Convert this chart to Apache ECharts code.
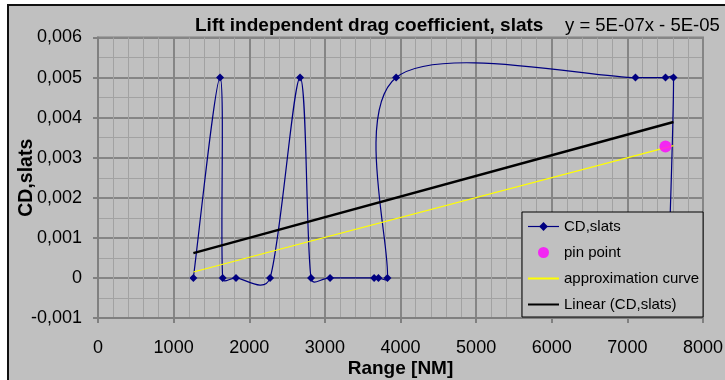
<!DOCTYPE html>
<html>
<head>
<meta charset="utf-8">
<script src="https://cdn.jsdelivr.net/npm/echarts@6/dist/echarts.min.js"></script>
<style>
html,body{margin:0;padding:0;background:#fff;}
#wrap{position:relative;width:725px;height:380px;overflow:hidden;background:#fff;}
#frame{position:absolute;left:7px;top:4px;width:740px;height:400px;background:#C0C0C0;border:2px solid #111;}
#chart{position:absolute;left:0;top:0;width:725px;height:380px;}
</style>
</head>
<body>
<div id="wrap"><div id="frame"></div><div id="chart"></div></div>
<script>
// Data
const cdRange = [1261, 1614, 1649, 1825, 2275, 2672, 2817, 3069, 3651, 3708, 3827, 3942, 7107, 7504, 7610, 7540];
const cdValue = [0, 0.005, 0, 0, 0, 0.005, 0, 0, 0, 0, 0, 0.005, 0.005, 0.005, 0.005, 0];
const pinRange = [7504];
const pinValue = [0.00328];
const approxRange = [1261, 7610];
const approxValue = [0.000147, 0.0033];
const linearRange = [1261, 7610];
const linearValue = [0.00062, 0.00389];
const titleText = 'Lift independent drag coefficient, slats';
const equationText = 'y = 5E-07x - 5E-05';
const seriesNames = ['CD,slats', 'pin point', 'approximation curve', 'Linear (CD,slats)'];

const zip = (xs, ys) => xs.map((x, i) => [x, ys[i]]);
const FONT = '"Liberation Sans", Arial, sans-serif';

// Excel-like smoothed line: Bezier through the data points, handle length limited to half the segment
function handle(a, b, segLen) {
  let vx = (b[0] - a[0]) / 6, vy = (b[1] - a[1]) / 6;
  const len = Math.hypot(vx, vy);
  if (len > segLen / 2 && len > 0) { const k = (segLen / 2) / len; vx *= k; vy *= k; }
  return [vx, vy];
}
function renderSmooth(params, api) {
  if (params.dataIndex !== 0) return null;
  const pts = cdRange.map((x, i) => api.coord([x, cdValue[i]]));
  const n = pts.length;
  let d = 'M' + pts[0][0] + ' ' + pts[0][1];
  for (let i = 0; i < n - 1; i++) {
    const p0 = pts[Math.max(0, i - 1)], p1 = pts[i], p2 = pts[i + 1], p3 = pts[Math.min(n - 1, i + 2)];
    const seg = Math.hypot(p2[0] - p1[0], p2[1] - p1[1]);
    const h1 = handle(p0, p2, seg), h2 = handle(p1, p3, seg);
    d += ' C' + (p1[0] + h1[0]) + ' ' + (p1[1] + h1[1]) + ' ' + (p2[0] - h2[0]) + ' ' + (p2[1] - h2[1]) + ' ' + p2[0] + ' ' + p2[1];
  }
  return {type: 'path', shape: {pathData: d},
          style: {stroke: '#000080', fill: 'none', lineWidth: 1.2}, silent: true};
}

const chart = echarts.init(document.getElementById('chart'), null, {renderer: 'canvas'});
chart.setOption({
  animation: false,
  backgroundColor: 'transparent',
  textStyle: {fontFamily: FONT},
  title: [
    {text: titleText, left: 195, top: 16, padding: 0,
     textStyle: {fontFamily: FONT, fontSize: 19, fontWeight: 'bold', color: '#000'}},
    {text: equationText, left: 565, top: 16, padding: 0,
     textStyle: {fontFamily: FONT, fontSize: 18.5, fontWeight: 'normal', color: '#000'}}
  ],
  grid: {left: 98, right: 22, top: 37.5, bottom: 62, show: true,
         backgroundColor: '#C0C0C0', borderColor: '#808080', borderWidth: 2,
         containLabel: false, outerBoundsMode: 'none'},
  legend: {
    orient: 'vertical', left: 522, top: 212, z: 20,
    padding: [7, 4, 5, 5], itemWidth: 31, itemHeight: 11, itemGap: 11,
    backgroundColor: '#C0C0C0', borderColor: '#000', borderWidth: 1,
    textStyle: {fontFamily: FONT, fontSize: 15, color: '#000'},
    data: [
      {name: seriesNames[0], lineStyle: {color: '#000080', width: 1.2, opacity: 1}},
      {name: seriesNames[1]},
      {name: seriesNames[2], itemStyle: {opacity: 0}},
      {name: seriesNames[3], itemStyle: {opacity: 0}}
    ]
  },
  xAxis: {
    type: 'value', min: 0, max: 8000, interval: 1000,
    name: 'Range [NM]', nameLocation: 'middle', nameGap: 41, nameMoveOverlap: false,
    nameTextStyle: {fontFamily: FONT, fontSize: 19, fontWeight: 'bold', color: '#000'},
    axisLine: {show: true, onZero: false, lineStyle: {color: '#808080', width: 2}},
    axisTick: {show: true, inside: false, length: 5, lineStyle: {color: '#808080', width: 2}},
    axisLabel: {fontFamily: FONT, fontSize: 18, color: '#000', margin: 21,
      formatter: v => String(Math.round(v))},
    splitLine: {show: true, lineStyle: {color: '#858585', width: 2}},
    minorTick: {show: false, splitNumber: 5},
    minorSplitLine: {show: true, lineStyle: {color: '#A2A2A2', width: 1}}
  },
  yAxis: {
    type: 'value', min: -0.001, max: 0.006, interval: 0.001,
    name: 'CD,slats', nameLocation: 'middle', nameGap: 61, nameMoveOverlap: false,
    nameTextStyle: {fontFamily: FONT, fontSize: 19.5, fontWeight: 'bold', color: '#000'},
    axisLine: {show: true, onZero: false, lineStyle: {color: '#808080', width: 2}},
    axisTick: {show: true, inside: false, length: 5, lineStyle: {color: '#808080', width: 2}},
    axisLabel: {fontFamily: FONT, fontSize: 18, color: '#000', margin: 16,
      formatter: v => Math.abs(v) < 1e-9 ? '0' : v.toFixed(3).replace('.', ',')},
    splitLine: {show: true, lineStyle: {color: '#858585', width: 2}},
    minorTick: {show: false, splitNumber: 2},
    minorSplitLine: {show: true, lineStyle: {color: '#A2A2A2', width: 1}}
  },
  series: [
    {name: 'CD,slats curve', type: 'custom', data: zip(cdRange, cdValue),
     renderItem: renderSmooth, z: 3, silent: true},
    {name: seriesNames[0], type: 'line', data: zip(cdRange, cdValue), smooth: false,
     symbol: 'diamond', symbolSize: 8, showAllSymbol: true,
     lineStyle: {color: '#000080', width: 1.2, opacity: 0}, itemStyle: {color: '#000080'}, z: 4},
    {name: seriesNames[1], type: 'scatter', data: zip(pinRange, pinValue),
     symbol: 'circle', symbolSize: 12, itemStyle: {color: '#FF00FF'}, z: 6},
    {name: seriesNames[2], type: 'line', data: zip(approxRange, approxValue),
     symbol: 'none', lineStyle: {color: '#FFFF00', width: 1.2}, itemStyle: {color: '#FFFF00'}, z: 5},
    {name: seriesNames[3], type: 'line', data: zip(linearRange, linearValue),
     symbol: 'none', lineStyle: {color: '#000000', width: 2.5}, itemStyle: {color: '#000000'}, z: 5}
  ]
});
</script>
</body>
</html>
